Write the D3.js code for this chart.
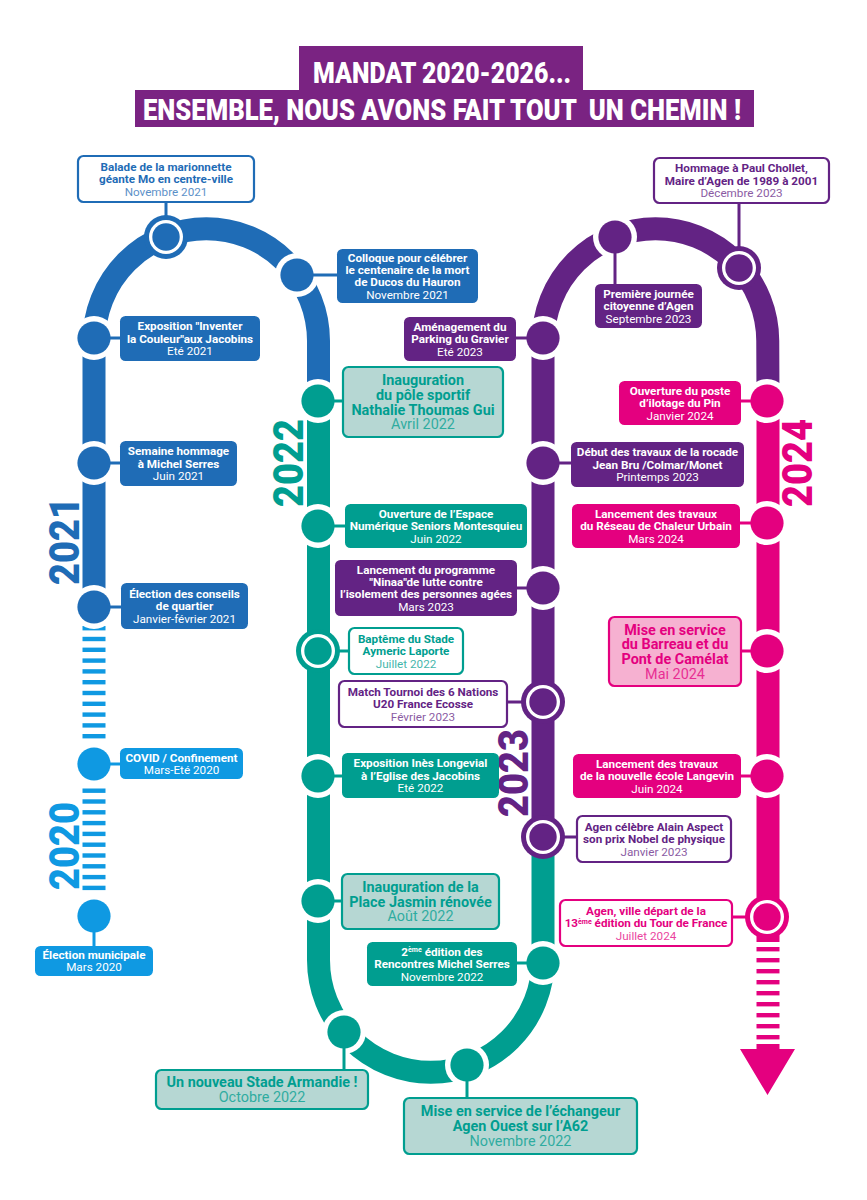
<!DOCTYPE html>
<html>
<head>
<meta charset="utf-8">
<style>
  html, body { margin: 0; background: #fff; }
  text { font-family: Roboto, sans-serif; }
</style>
</head>
<body>
<div id="graphic"></div>
<script src="https://cdnjs.cloudflare.com/ajax/libs/d3/7.8.5/d3.min.js"></script>
<script>
// the events, in reading order of the line
var eventYears = [
  2020, 2020, 2021, 2021, 2021, 2021, 2021,
  2022, 2022, 2022, 2022, 2022, 2022, 2022, 2022,
  2023, 2023, 2023, 2023, 2023, 2023, 2023,
  2024, 2024, 2024, 2024, 2024
];
var eventTitles = [
  ["Élection municipale"],
  ["COVID / Confinement"],
  ["Élection des conseils", "de quartier"],
  ["Semaine hommage", "à Michel Serres"],
  ["Exposition \"Inventer", "la Couleur\"aux Jacobins"],
  ["Balade de la marionnette", "géante Mo en centre-ville"],
  ["Colloque pour célébrer", "le centenaire de la mort", "de Ducos du Hauron"],
  ["Inauguration", "du pôle sportif", "Nathalie Thoumas Gui"],
  ["Ouverture de l’Espace", "Numérique Seniors Montesquieu"],
  ["Baptême du Stade", "Aymeric Laporte"],
  ["Exposition Inès Longevial", "à l’Eglise des Jacobins"],
  ["Inauguration de la", "Place Jasmin rénovée"],
  ["Un nouveau Stade Armandie !"],
  ["Mise en service de l’échangeur", "Agen Ouest sur l’A62"],
  ["2^ème édition des", "Rencontres Michel Serres"],
  ["Agen célèbre Alain Aspect", "son prix Nobel de physique"],
  ["Match Tournoi des 6 Nations", "U20 France Ecosse"],
  ["Lancement du programme", "\"Ninaa\"de lutte contre", "l’isolement des personnes agées"],
  ["Début des travaux de la rocade", "Jean Bru /Colmar/Monet"],
  ["Aménagement du", "Parking du Gravier"],
  ["Première journée", "citoyenne d’Agen"],
  ["Hommage à Paul Chollet,", "Maire d’Agen de 1989 à 2001"],
  ["Ouverture du poste", "d’ilotage du Pin"],
  ["Lancement des travaux", "du Réseau de Chaleur Urbain"],
  ["Mise en service", "du Barreau et du", "Pont de Camélat"],
  ["Lancement des travaux", "de la nouvelle école Langevin"],
  ["Agen, ville départ de la", "13^ème édition du Tour de France"]
];
var eventDates = [
  "Mars 2020", "Mars-Eté 2020", "Janvier-février 2021", "Juin 2021", "Eté 2021",
  "Novembre 2021", "Novembre 2021",
  "Avril 2022", "Juin 2022", "Juillet 2022", "Eté 2022", "Août 2022", "Octobre 2022",
  "Novembre 2022", "Novembre 2022",
  "Janvier 2023", "Février 2023", "Mars 2023", "Printemps 2023", "Eté 2023",
  "Septembre 2023", "Décembre 2023",
  "Janvier 2024", "Mars 2024", "Mai 2024", "Juin 2024", "Juillet 2024"
];
var yearLabels = [2020, 2021, 2022, 2023, 2024];
var yearColors = ["#0f99e2", "#1f6cb6", "#009e90", "#632384", "#e4007f"];
var titleLines = ["MANDAT 2020-2026...", "ENSEMBLE, NOUS AVONS FAIT TOUT  UN CHEMIN !"];

// layout, same order as the events
var stationX = [94, 94, 94, 94, 94, 166, 297,
  318, 318, 318, 318, 318, 344, 467, 543,
  543, 543, 543, 543, 543, 615, 739,
  767, 767, 767, 767, 767];
var stationY = [916, 764, 607, 463, 338, 237, 275,
  401, 526, 651, 776, 901, 1032, 1065, 963,
  837, 702, 588, 463, 338, 237, 268,
  401, 523, 651, 776, 917];
// x0, y0, x1, y1
var boxRects = [
  [35, 946, 153, 976], [120, 748, 243, 779], [121, 583, 248, 629], [120, 441, 237, 486],
  [120, 316, 260, 361], [78, 156, 254, 202], [337, 249, 478, 303],
  [343, 367, 503, 437], [345, 504, 527, 548], [349, 628, 463, 674], [342, 753, 499, 798],
  [342, 874, 499, 929], [156, 1070, 368, 1109], [404, 1098, 637, 1154], [367, 942, 517, 986],
  [577, 816, 731, 862], [339, 681, 507, 727], [335, 560, 517, 616], [571, 442, 744, 487],
  [404, 317, 516, 361], [595, 284, 702, 328], [654, 158, 829, 203],
  [619, 381, 741, 425], [572, 504, 740, 548], [609, 617, 741, 686], [573, 754, 741, 798], [560, 900, 732, 946]
];
var boxStyles = [
  "solid", "solid", "solid", "solid", "solid", "line", "solid",
  "pale", "solid", "line", "solid", "pale", "pale", "pale", "solid",
  "line", "line", "solid", "solid", "solid", "solid", "line",
  "solid", "solid", "pale", "solid", "line"
];
var paleFill = { 2022: "#b6d7d3", 2024: "#f6b1d1" };

var width = 867, height = 1200;
var trackW = 23, R = 112.25;
var xBlue = 94, xTeal = 318.5, xPurple = 543, xPink = 768;
var yTop = 341, yBottom = 960;

var color = d3.scaleOrdinal().domain(yearLabels).range(yearColors);

var svg = d3.select("#graphic").append("svg")
  .attr("width", width)
  .attr("height", height)
  .style("display", "block");

// title
var title = svg.append("g");
title.append("rect").attr("x", 299).attr("y", 46).attr("width", 284).attr("height", 50).attr("fill", "#7a2382");
title.append("rect").attr("x", 135).attr("y", 90).attr("width", 619).attr("height", 37).attr("fill", "#7a2382");
title.append("text").attr("x", 442).attr("y", 83).attr("text-anchor", "middle")
  .attr("textLength", 258).attr("lengthAdjust", "spacingAndGlyphs")
  .attr("font-size", 30).attr("font-weight", 900).attr("fill", "#fff").text(titleLines[0]);
title.append("text").attr("x", 442).attr("y", 120).attr("text-anchor", "middle")
  .attr("textLength", 598).attr("lengthAdjust", "spacingAndGlyphs")
  .attr("font-size", 30).attr("font-weight", 900).attr("fill", "#fff")
  .style("white-space", "pre").text(titleLines[1]);

// the track, one path per year
function trackPath(draw) {
  var p = d3.path();
  draw(p);
  return p.toString();
}
var tracks = [
  [2021, trackPath(function (p) {
    p.moveTo(xBlue, 607); p.lineTo(xBlue, yTop);
    p.arc((xBlue + xTeal) / 2, yTop, R, Math.PI, 2 * Math.PI);
    p.lineTo(xTeal, 401);
  })],
  [2022, trackPath(function (p) {
    p.moveTo(xTeal, 401); p.lineTo(xTeal, yBottom);
    p.arc((xTeal + xPurple) / 2, yBottom, R, Math.PI, 0, true);
    p.lineTo(xPurple, 837);
  })],
  [2023, trackPath(function (p) {
    p.moveTo(xPurple, 837); p.lineTo(xPurple, yTop);
    p.arc((xPurple + xPink) / 2, yTop, R, Math.PI, 2 * Math.PI);
    p.lineTo(xPink, 401);
  })],
  [2024, trackPath(function (p) {
    p.moveTo(xPink, 401); p.lineTo(xPink, 942);
  })]
];
svg.append("g").selectAll("path").data(tracks).join("path")
  .attr("d", function (d) { return d[1]; })
  .attr("fill", "none")
  .attr("stroke", function (d) { return color(d[0]); })
  .attr("stroke-width", trackW);

// dashed parts
var dashes = [
  [2020, xBlue, d3.range(628, 740, 10.8)],
  [2020, xBlue, d3.range(790.5, 892, 10.8)],
  [2024, xPink, d3.range(949, 1042, 11)]
];
dashes.forEach(function (s) {
  svg.append("g").selectAll("rect").data(s[2]).join("rect")
    .attr("x", s[1] - trackW / 2).attr("y", function (d) { return d - 2; })
    .attr("width", trackW).attr("height", 4.4)
    .attr("fill", color(s[0]));
});

// arrow
svg.append("path")
  .attr("d", d3.line()([[xPink - trackW / 2, 1044], [xPink + trackW / 2, 1044], [xPink + trackW / 2, 1049],
    [795, 1049], [xPink - 0.5, 1095], [740, 1049], [xPink - trackW / 2, 1049]]) + "Z")
  .attr("fill", color(2024));

// year labels
var yearX = [79, 79, 303, 528, 812];
var yearY = [846, 541, 463, 773, 463];
svg.append("g").selectAll("text").data(yearLabels).join("text")
  .attr("transform", function (d, i) { return "translate(" + yearX[i] + "," + yearY[i] + ") rotate(-90)"; })
  .attr("text-anchor", "middle")
  .attr("textLength", 88).attr("lengthAdjust", "spacingAndGlyphs")
  .attr("font-size", 42).attr("font-weight", 900)
  .attr("fill", function (d) { return color(d); })
  .text(function (d) { return d; });

// stations and their labels
var events = eventTitles.map(function (t, i) {
  return { lines: t, date: eventDates[i], year: eventYears[i], x: stationX[i], y: stationY[i], box: boxRects[i], style: boxStyles[i] };
});

var ev = svg.append("g").selectAll("g").data(events).join("g");

// white halo for the plain stops, coloured disc for the ring stops
ev.append("circle")
  .attr("cx", function (d) { return d.x; }).attr("cy", function (d) { return d.y; })
  .attr("r", 22)
  .attr("fill", function (d) { return d.style == "line" ? color(d.year) : "#fff"; });

// stem between the stop and its box
ev.append("line")
  .attr("x1", function (d) { return d.x; }).attr("y1", function (d) { return d.y; })
  .attr("x2", function (d) { return d.x > d.box[0] && d.x < d.box[2] ? d.x : (d.x < d.box[0] ? d.box[0] : d.box[2]); })
  .attr("y2", function (d) { return d.x > d.box[0] && d.x < d.box[2] ? (d.y < d.box[1] ? d.box[1] : d.box[3]) : d.y; })
  .attr("stroke", function (d) { return color(d.year); })
  .attr("stroke-width", 3);

ev.filter(function (d) { return d.style == "line"; }).append("circle")
  .attr("cx", function (d) { return d.x; }).attr("cy", function (d) { return d.y; })
  .attr("r", 17).attr("fill", "#fff");

ev.append("circle")
  .attr("cx", function (d) { return d.x; }).attr("cy", function (d) { return d.y; })
  .attr("r", function (d) { return d.style == "line" ? 13.7 : 16.6; })
  .attr("fill", function (d) { return color(d.year); });

ev.append("rect")
  .attr("x", function (d) { return d.box[0]; }).attr("y", function (d) { return d.box[1]; })
  .attr("width", function (d) { return d.box[2] - d.box[0]; })
  .attr("height", function (d) { return d.box[3] - d.box[1]; })
  .attr("rx", 5.5)
  .attr("fill", function (d) {
    if (d.style == "line") return "#fff";
    if (d.style == "pale") return paleFill[d.year];
    return color(d.year);
  })
  .attr("stroke", function (d) { return color(d.year); })
  .attr("stroke-width", function (d) { return d.style == "solid" ? 0 : 2.2; });

// box text
ev.each(function (d) {
  var g = d3.select(this);
  var fs = d.style == "pale" ? 14.4 : 11.7;
  var lh = d.style == "pale" ? 14.7 : 12.3;
  var cx = (d.box[0] + d.box[2]) / 2, cy = (d.box[1] + d.box[3]) / 2;
  var all = d.lines.concat([d.date]);
  var ink = d.style == "solid" ? "#fff" : color(d.year);
  all.forEach(function (line, i) {
    var isDate = i == all.length - 1;
    var row = g.append("text")
      .attr("x", cx)
      .attr("y", cy + (i - (all.length - 1) / 2) * lh + fs * 0.36)
      .attr("text-anchor", "middle")
      .attr("font-size", fs)
      .attr("font-weight", isDate ? 400 : 700)
      .attr("fill", ink)
      .attr("opacity", isDate && d.style != "solid" ? 0.75 : 1);
    line.split(/\^(\S+)/).forEach(function (part, k) {
      if (k % 2 == 1) {
        row.append("tspan").attr("dy", -fs * 0.3).attr("font-size", fs * 0.6).text(part);
      } else if (part) {
        row.append("tspan").attr("dy", k > 0 ? fs * 0.3 : 0).text(part);
      }
    });
  });
});
</script>
</body>
</html>
